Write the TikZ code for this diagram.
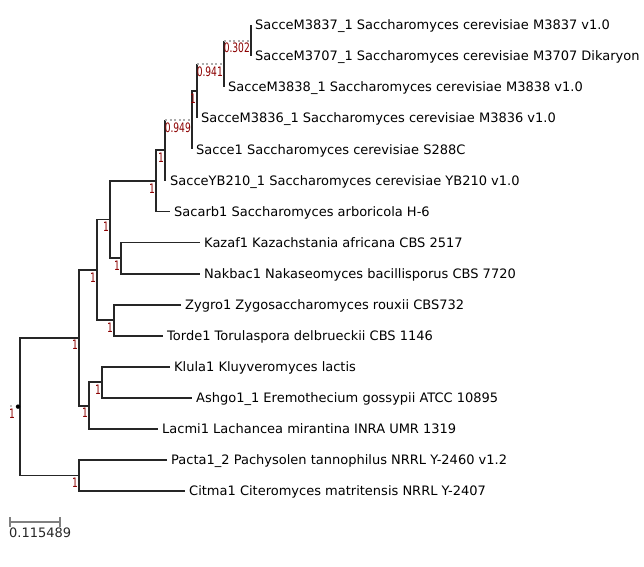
\documentclass[tikz,border=0pt]{standalone}
\usepackage{fontspec}
\setmainfont{DejaVu Sans}
\newfontfamily\bootfont[FakeStretch=0.7]{DejaVu Sans}
\definecolor{bootred}{RGB}{139,0,0}

\begin{document}
\begin{tikzpicture}[x=1pt,y=-1pt,
    branch/.style={line width=1.8pt, black!85},
    weak/.style={line width=2pt, gray!65, dash pattern=on 2pt off 2.6pt},
    leaf/.style={anchor=west, inner xsep=4pt, inner ysep=0pt, text height=9.5pt, text depth=0pt, font=\fontsize{13}{15}\selectfont},
    boot/.style={anchor=north east, inner sep=0pt, text height=9.5pt, text depth=0pt, xshift=-1pt, yshift=-2.5pt, text=bootred, font=\bootfont\fontsize{13}{15}\selectfont},
    scalebar/.style={line width=1.6pt, gray}]
    \useasboundingbox (0,0) rectangle (644,566);

    \node[leaf] (l1) at (251,25) {SacceM3837\_1 Saccharomyces cerevisiae M3837 v1.0};
    \node[leaf] (l2) at (251,56.1) {SacceM3707\_1 Saccharomyces cerevisiae M3707 Dikaryon};
    \node[leaf] (l3) at (224,87.1) {SacceM3838\_1 Saccharomyces cerevisiae M3838 v1.0};
    \node[leaf] (l4) at (197,118.2) {SacceM3836\_1 Saccharomyces cerevisiae M3836 v1.0};
    \node[leaf] (l5) at (192,149.3) {Sacce1 Saccharomyces cerevisiae S288C};
    \node[leaf] (l6) at (166,180.4) {SacceYB210\_1 Saccharomyces cerevisiae YB210 v1.0};
    \node[leaf] (l7) at (170,211.4) {Sacarb1 Saccharomyces arboricola H-6};
    \node[leaf] (l8) at (200,242.5) {Kazaf1 Kazachstania africana CBS 2517};
    \node[leaf] (l9) at (200,273.6) {Nakbac1 Nakaseomyces bacillisporus CBS 7720};
    \node[leaf] (l10) at (181,304.6) {Zygro1 Zygosaccharomyces rouxii CBS732};
    \node[leaf] (l11) at (163,335.7) {Torde1 Torulaspora delbrueckii CBS 1146};
    \node[leaf] (l12) at (170,366.8) {Klula1 Kluyveromyces lactis};
    \node[leaf] (l13) at (192,397.8) {Ashgo1\_1 Eremothecium gossypii ATCC 10895};
    \node[leaf] (l14) at (158,428.9) {Lacmi1 Lachancea mirantina INRA UMR 1319};
    \node[leaf] (l15) at (167,460) {Pacta1\_2 Pachysolen tannophilus NRRL Y-2460 v1.2};
    \node[leaf] (l16) at (185,491.1) {Citma1 Citeromyces matritensis NRRL Y-2407};

    \coordinate (n1) at (251,40.55);
    \coordinate (n2) at (224,63.8);
    \coordinate (n3) at (197,91);
    \coordinate (n4) at (192,120.2);
    \coordinate (n5) at (165,150.3);
    \coordinate (n6) at (156,180.9);
    \coordinate (n7) at (121,258.05);
    \coordinate (n8) at (110,219.5);
    \coordinate (n9) at (114,320.15);
    \coordinate (n10) at (97,269.8);
    \coordinate (n11) at (102,382.3);
    \coordinate (n12) at (89,405.6);
    \coordinate (n13) at (79,337.7);
    \coordinate (n14) at (79,475.55);
    \coordinate (root) at (20,406.6);

    \draw[branch] (l1.west) -| (n1) |- (l2.west);
    \draw[branch] (n2 |- n1) |- (l3.west);
    \draw[weak] (n2 |- n1) -- (n1);
    \draw[branch] (n3 |- n2) |- (l4.west);
    \draw[weak] (n3 |- n2) -- (n2);
    \draw[branch] (n3) -| (n4) |- (l5.west);
    \draw[branch] (n5 |- n4) |- (l6.west);
    \draw[weak] (n5 |- n4) -- (n4);
    \draw[branch] (n5) -| (n6) |- (l7.west);
    \draw[branch] (l8.west) -| (n7) |- (l9.west);
    \draw[branch] (n6) -| (n8) |- (n7);
    \draw[branch] (l10.west) -| (n9) |- (l11.west);
    \draw[branch] (n8) -| (n10) |- (n9);
    \draw[branch] (l12.west) -| (n11) |- (l13.west);
    \draw[branch] (n11) -| (n12) |- (l14.west);
    \draw[branch] (n10) -| (n13) |- (n12);
    \draw[branch] (l15.west) -| (n14) |- (l16.west);
    \draw[branch] (n13) -| (root) |- (n14);
    \fill (18,406.6) circle (2.2pt);
    \fill[gray] (11,406) circle (0.8pt);

    \node[boot] (b1) at (n1) {0.302};
    \node[boot] (b2) at (n2) {0.941};
    \node[boot] (b3) at (n3) {1};
    \node[boot] (b4) at (n4) {0.949};
    \node[boot] (b5) at (n5) {1};
    \node[boot] (b6) at (n6) {1};
    \node[boot] (b7) at (n7) {1};
    \node[boot] (b8) at (n8) {1};
    \node[boot] (b9) at (n9) {1};
    \node[boot] (b10) at (n10) {1};
    \node[boot] (b11) at (n11) {1};
    \node[boot] (b12) at (n12) {1};
    \node[boot] (b13) at (n13) {1};
    \node[boot] (b14) at (n14) {1};
    \node[boot, xshift=-4pt] (b15) at (root) {1};

    \coordinate (sb1) at (10,522);
    \coordinate (sb2) at (60,522);
    \draw[scalebar] (sb1) -- (sb2);
    \draw[scalebar] ([yshift=5pt]sb1) -- ([yshift=-5pt]sb1);
    \draw[scalebar] ([yshift=5pt]sb2) -- ([yshift=-5pt]sb2);
    \node[anchor=north west, inner sep=0pt, text height=9.5pt, text depth=0pt, font=\fontsize{13}{15}\selectfont, black!85] (sblab) at (9,528) {0.115489};
  \end{tikzpicture}
\end{document}
